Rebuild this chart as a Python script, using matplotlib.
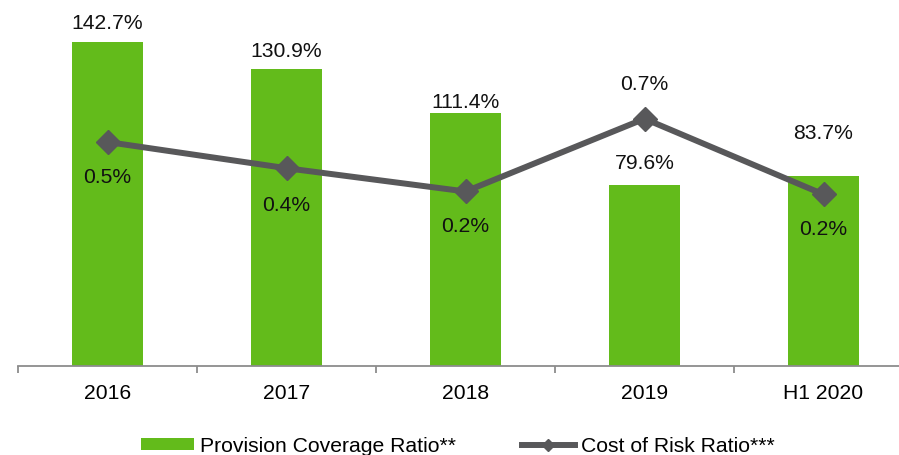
import matplotlib
matplotlib.use("Agg")
import matplotlib.pyplot as plt
from matplotlib.lines import Line2D
from matplotlib.patches import Patch

categories = ["2016", "2017", "2018", "2019", "H1 2020"]
coverage = [142.7, 130.9, 111.4, 79.6, 83.7]
cost_of_risk = [0.54, 0.36, 0.20, 0.70, 0.18]
series_names = ["Provision Coverage Ratio**", "Cost of Risk Ratio***"]

plt.rcParams['font.family'] = ['Liberation Sans', 'DejaVu Sans']
FS = 15.2
GREEN = "#63BB1B"
GRAY = "#58585A"

fig = plt.figure(figsize=(8.99, 4.55), dpi=100)
ax = fig.add_axes([18/899, 1-366/455, 895/899, 363.6/455])
x = list(range(len(categories)))
ax.bar(x, coverage, width=0.4, color=GREEN, zorder=2)
ax.set_xlim(-0.5, 4.5)
ax.set_ylim(0, 160)
for s in ["top", "right", "left"]:
    ax.spines[s].set_visible(False)
ax.spines["bottom"].set_color("#8C8C8C")
ax.spines["bottom"].set_linewidth(1.3)
ax.set_yticks([])
ax.set_xticks(x)
ax.set_xticklabels(categories, fontsize=FS)
ax.tick_params(axis="x", which="major", length=0, pad=13)
ax.set_xticks([i - 0.5 for i in range(len(categories) + 1)], minor=True)
ax.tick_params(axis="x", which="minor", length=5, width=1.3, color="#8C8C8C")

bar_offsets = [18, 17, 10, 22, 42]
for xi, v, off in zip(x, coverage, bar_offsets):
    ax.annotate(f"{v:.1f}%", (xi, v), xytext=(0, off * 0.72), textcoords="offset points",
                ha="center", va="center", fontsize=FS, color="#111111")

ax2 = ax.twinx()
ax2.set_ylim(-1.0, 1.5)
ax2.plot(x, cost_of_risk, color=GRAY, lw=4.3, marker="D", markersize=12.5, zorder=3)
ax2.axis("off")
line_offsets = [-35, -37, -35, 34, -35]
for xi, v, off in zip(x, cost_of_risk, line_offsets):
    ax2.annotate(f"{v:.1f}%", (xi, v), xytext=(0, off * 0.72), textcoords="offset points",
                 ha="center", va="center", fontsize=FS, color="#111111")

handles = [Patch(facecolor=GREEN, edgecolor="none"),
           Line2D([0], [0], color=GRAY, lw=4.3, marker="D", markersize=6.5)]
leg = fig.legend(handles, series_names, loc="center", bbox_to_anchor=(458/899, 1-446/455),
                 ncol=2, frameon=False, fontsize=FS, handlelength=2.5, handleheight=0.5,
                 handletextpad=0.3, columnspacing=3.1)

fig.savefig("out.png", dpi=100)
